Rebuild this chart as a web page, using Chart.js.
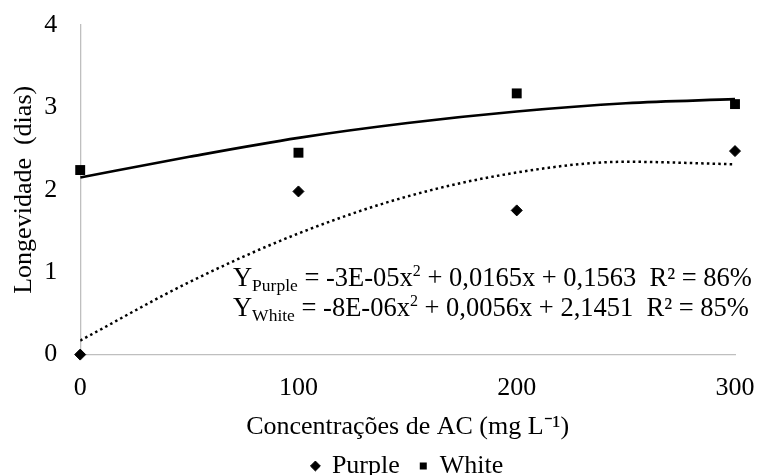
<!DOCTYPE html>
<html>
<head>
<meta charset="utf-8">
<script src="https://cdn.jsdelivr.net/npm/chart.js@4"></script>
<style>
  html, body { margin: 0; padding: 0; background: #fff; }
  #wrap { width: 759px; height: 475px; }
</style>
</head>
<body>
<div id="wrap"><canvas id="chart"></canvas></div>
<script>
const concentrations = [0, 100, 200, 300];
const purpleValues = [0, 1.98, 1.75, 2.47];
const whiteValues = [2.24, 2.45, 3.17, 3.04];

// trend lines
const trendX = [0, 50, 100, 150, 200, 250, 300];
const purpleTrend = [0.17, 0.88, 1.47, 1.92, 2.21, 2.34, 2.31];
const whiteTrend = [2.15, 2.40, 2.63, 2.81, 2.95, 3.05, 3.10];

const xTicks = [0, 100, 200, 300];
const yTicks = [0, 1, 2, 3, 4];

const FONT = "'Liberation Serif', 'Times New Roman', serif";

const toPoints = (xs, ys) => xs.map((x, i) => ({ x: x, y: ys[i] }));

// equation text, placed in data units
const equations = [
  { sub: 'Purple', body: ' = -3E-05x', rest: ' + 0,0165x + 0,1563  R² = 86%', x: 70, y: 0.83 },
  { sub: 'White', body: ' = -8E-06x', rest: ' + 0,0056x + 2,1451  R² = 85%', x: 70, y: 0.47 }
];

const equationPlugin = {
  id: 'equations',
  afterDatasetsDraw(chart) {
    const ctx = chart.ctx;
    const xs = chart.scales.x, ys = chart.scales.y;
    ctx.save();
    ctx.fillStyle = '#000';
    ctx.textBaseline = 'alphabetic';
    ctx.textAlign = 'left';
    equations.forEach(eq => {
      let px = xs.getPixelForValue(eq.x);
      const py = ys.getPixelForValue(eq.y);
      ctx.font = '26.5px ' + FONT;
      ctx.fillText('Y', px, py);
      px += ctx.measureText('Y').width;
      ctx.font = '17.5px ' + FONT;
      ctx.fillText(eq.sub, px, py + 5);
      px += ctx.measureText(eq.sub).width;
      ctx.font = '26.5px ' + FONT;
      ctx.fillText(eq.body, px, py);
      px += ctx.measureText(eq.body).width;
      ctx.font = '16px ' + FONT;
      ctx.fillText('2', px, py - 10);
      px += ctx.measureText('2').width;
      ctx.font = '26.5px ' + FONT;
      ctx.fillText(eq.rest, px, py);
    });
    ctx.restore();
  }
};

// centre the legend under the plot area like the original
const legendShift = {
  id: 'legendShift',
  afterLayout(chart) {
    const lg = chart.legend, ca = chart.chartArea;
    const d = (ca.left + ca.right) / 2 - (lg.left + lg.right) / 2;
    lg.left += d;
    lg.right += d;
  }
};

new Chart(document.getElementById('chart'), {
  type: 'scatter',
  data: {
    datasets: [
      {
        label: 'Purple',
        data: toPoints(concentrations, purpleValues),
        pointStyle: 'rectRot',
        pointRadius: 5.5,
        backgroundColor: '#000',
        borderColor: '#000',
        borderWidth: 1,
        clip: false
      },
      {
        label: 'White',
        data: toPoints(concentrations, whiteValues),
        pointStyle: 'rect',
        pointRadius: 7,
        backgroundColor: '#000',
        borderColor: '#000',
        borderWidth: 0,
        clip: false
      },
      {
        label: 'trendPurple',
        data: toPoints(trendX, purpleTrend),
        showLine: true,
        pointRadius: 0,
        borderColor: '#000',
        borderWidth: 2.5,
        borderDash: [2.5, 3.2],
        cubicInterpolationMode: 'monotone'
      },
      {
        label: 'trendWhite',
        data: toPoints(trendX, whiteTrend),
        showLine: true,
        pointRadius: 0,
        borderColor: '#000',
        borderWidth: 2.6,
        cubicInterpolationMode: 'monotone'
      }
    ]
  },
  options: {
    responsive: true,
    maintainAspectRatio: false,
    animation: false,
    layout: { padding: { top: 0, right: 0, bottom: -14, left: 9 } },
    plugins: {
      tooltip: { enabled: false },
      legend: {
        position: 'bottom',
        labels: {
          filter: item => item.text === 'Purple' || item.text === 'White',
          usePointStyle: true,
          boxWidth: 7,
          boxHeight: 7,
          padding: 20,
          color: '#000',
          font: { family: FONT, size: 26 }
        }
      }
    },
    scales: {
      x: {
        type: 'linear',
        min: 0,
        max: 300,
        afterBuildTicks: axis => { axis.ticks = xTicks.map(v => ({ value: v })); },
        afterFit: axis => { axis.paddingRight = 24; },
        grid: { display: false, drawTicks: false },
        border: { display: true, color: '#bfbfbf', width: 1.3 },
        ticks: { color: '#000', padding: 18, font: { family: FONT, size: 26 } },
        title: {
          display: true,
          text: 'Concentrações de AC (mg L⁻¹)',
          color: '#000',
          padding: { top: -10, bottom: -10 },
          font: { family: FONT, size: 26 }
        }
      },
      y: {
        min: 0,
        max: 4,
        afterBuildTicks: axis => { axis.ticks = yTicks.map(v => ({ value: v })); },
        afterFit: axis => { axis.paddingTop = 25; },
        grid: { display: false, drawTicks: false },
        border: { display: true, color: '#bfbfbf', width: 1.3 },
        ticks: { color: '#000', padding: 23, font: { family: FONT, size: 26 } },
        title: {
          display: true,
          text: 'Longevidade  (dias)',
          color: '#000',
          padding: { top: 0, bottom: -19 },
          font: { family: FONT, size: 26 }
        }
      }
    }
  },
  plugins: [equationPlugin, legendShift]
});
</script>
</body>
</html>
